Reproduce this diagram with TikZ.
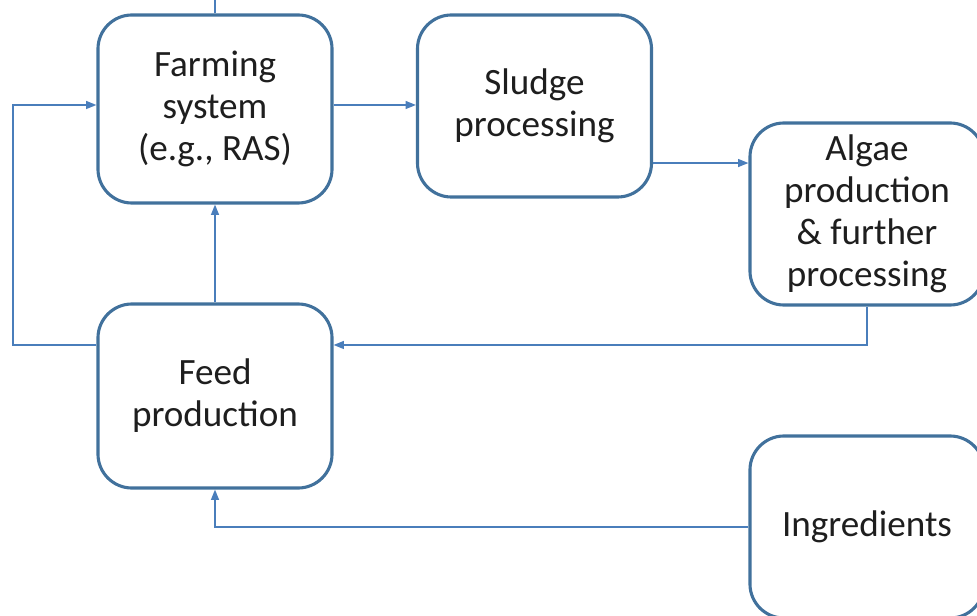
\documentclass[tikz,border=0pt]{standalone}
\usepackage{fontspec}
\setmainfont{Carlito}
\usetikzlibrary{arrows.meta,positioning}
\definecolor{boxline}{HTML}{41719C}
\definecolor{flow}{HTML}{4A7EBB}
\definecolor{txt}{HTML}{1E1E1E}

\begin{document}
\begin{tikzpicture}[x=0.025cm,y=-0.025cm,
  stage/.style={draw=boxline,line width=2.2pt,rounded corners=0.85cm,fill=white,
    align=center,text=txt,font=\fontsize{26.4}{29.9}\selectfont,
    minimum width=5.85cm,minimum height=4.6cm,inner sep=0pt},
  link/.style={draw=flow,line width=1pt,-{Triangle[length=0.26cm,width=0.2cm]}}]
  \clip (0,0) rectangle (977,616);

  % process boxes
  \node[stage,minimum height=4.7cm] (farm) at (215,109) {Farming\\system\\(e.g., RAS)};
  \node[stage,minimum height=4.55cm] (sludge) at (534.5,106) {Sludge\\processing};
  \node[stage,minimum height=4.55cm] (algae) at (867,214) {Algae\\production\\\& further\\processing};
  \node[stage] (feed) at (215,396) {Feed\\production};
  \node[stage,minimum height=4.55cm] (ingr) at (867,527) {Ingredients};

  % helper points
  \coordinate (top) at (215,0);
  \coordinate (loop) at (13,0);
  \coordinate (fs) at ([yshift=0.1cm]farm.east);
  \coordinate (fw) at ([yshift=0.1cm]farm.west);
  \coordinate (sa) at ([yshift=-1.425cm]sludge.east);
  \coordinate (fin) at ([yshift=1.275cm]feed.east);
  \coordinate (fout) at ([yshift=1.275cm]feed.west);

  % flows
  \draw[flow,line width=1pt] (farm.north) -- (top);
  \draw[link] (fs) -- (fs -| sludge.west);
  \draw[link] (sa) -- (sa -| algae.west);
  \draw[link] (algae.south) |- (fin);
  \draw[link] (feed.north) -- (farm.south);
  \draw[link] (fout) -| (loop |- fw) -- (fw);
  \draw[link] (ingr.west) -| (feed.south);
\end{tikzpicture}
\end{document}
